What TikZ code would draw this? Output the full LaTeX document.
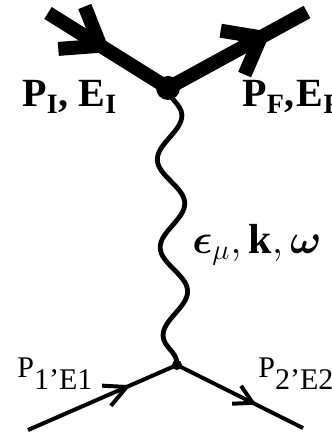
\documentclass[tikz,border=0pt]{standalone}
\usepackage{fontspec}
\setmainfont{Liberation Serif}
\usepackage{amsmath}
\usetikzlibrary{arrows.meta,decorations.pathmorphing,decorations.markings}

\tikzset{
  vertex/.style={circle,fill=black,inner sep=0pt},
  lbl/.style={anchor=base west,inner sep=0pt},
  midarrow/.style 2 args={postaction={decorate},
    decoration={markings,mark=at position #1 with {\arrow{#2}}}},
  heavy/.style={line width=7pt},
  fermion/.style={line width=2pt},
  photon/.style={line width=2.4pt,decorate,
    decoration={snake,segment length=44pt,amplitude=6.5pt}}
}

\begin{document}
\begin{tikzpicture}[x=0.5pt,y=-0.5pt]
\useasboundingbox (0,0) rectangle (331,432);

% Vertices
\node[vertex,minimum size=12pt] (vtop) at (168,88) {};
\node[vertex,minimum size=5pt] (vbot) at (177,365) {};

% End points of the lines
\coordinate (inI) at (48,13);
\coordinate (outF) at (307,12);
\coordinate (in1) at (28,430);
\coordinate (out2) at (303,428);

% Heavy particle
\draw[heavy,midarrow={0.52}{Straight Barb[length=17pt,width=25pt]}] (inI) -- (vtop.center);
\draw[heavy,midarrow={0.74}{Straight Barb[length=16pt,width=25pt]}] (vtop.center) -- (outF);

% Photon
\draw[photon] (vtop.center) -- (vbot.center);

% Light particle
\draw[fermion,midarrow={0.69}{Straight Barb[length=11pt,width=11pt]}] (in1) -- (vbot.center);
\draw[fermion,midarrow={0.63}{Straight Barb[length=9pt,width=10pt]}] (vbot.center) -- (out2);

% Labels
\node[lbl] (lI) at (22,107) {\fontsize{20}{24}\selectfont\bfseries P\textsubscript{I}, E\textsubscript{I}};
\node[lbl] (lF) at (242,107) {\fontsize{20}{24}\selectfont\bfseries P\textsubscript{F},\kern1pt E\textsubscript{F}};
\node[lbl] (lph) at (192,253) {\fontsize{21}{25}\selectfont$\boldsymbol{\epsilon}_{\mu},\mathbf{k},\boldsymbol{\omega}$};
\node[lbl] (l1) at (17,377) {\fontsize{15}{18}\selectfont P\raisebox{-6pt}{1’E1}};
\node[lbl] (l2) at (258,377) {\fontsize{15}{18}\selectfont P\raisebox{-6pt}{2’E2}};

\end{tikzpicture}
\end{document}
